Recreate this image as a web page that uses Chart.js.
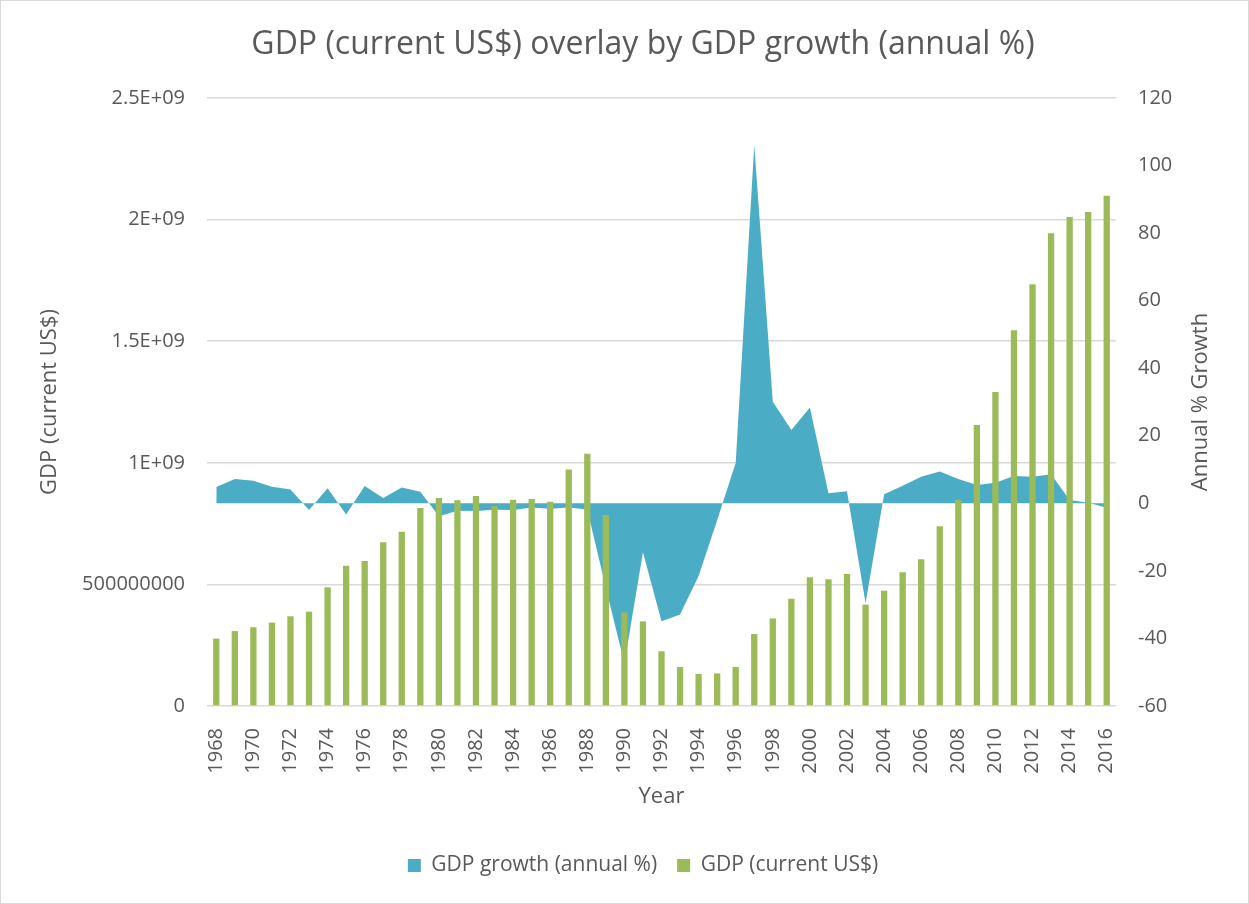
<!DOCTYPE html>
<html>
<head>
<meta charset="utf-8">
<script src="https://cdn.jsdelivr.net/npm/chart.js@4"></script>
<style>
  body { margin: 0; background: #fff; }
  #wrap { width: 1249px; height: 904px; }
</style>
</head>
<body>
<div id="wrap"><canvas id="gdpChart" width="1249" height="904"></canvas></div>
<script>
// ----- data -----
const years = ['1968', '1969', '1970', '1971', '1972', '1973', '1974', '1975', '1976', '1977',
  '1978', '1979', '1980', '1981', '1982', '1983', '1984', '1985', '1986', '1987',
  '1988', '1989', '1990', '1991', '1992', '1993', '1994', '1995', '1996', '1997',
  '1998', '1999', '2000', '2001', '2002', '2003', '2004', '2005', '2006', '2007',
  '2008', '2009', '2010', '2011', '2012', '2013', '2014', '2015', '2016'];

// GDP in current US$
const gdpValues = [0.277e9, 0.308e9, 0.324e9, 0.343e9, 0.369e9, 0.388e9, 0.488e9, 0.577e9, 0.596e9, 0.673e9,
  0.717e9, 0.814e9, 0.855e9, 0.846e9, 0.863e9, 0.822e9, 0.848e9, 0.851e9, 0.840e9, 0.972e9,
  1.037e9, 0.785e9, 0.385e9, 0.348e9, 0.225e9, 0.160e9, 0.132e9, 0.134e9, 0.160e9, 0.296e9,
  0.360e9, 0.441e9, 0.529e9, 0.521e9, 0.543e9, 0.417e9, 0.474e9, 0.550e9, 0.603e9, 0.739e9,
  0.848e9, 1.155e9, 1.291e9, 1.545e9, 1.734e9, 1.944e9, 2.011e9, 2.031e9, 2.098e9];

// GDP growth, annual %
const growthValues = [4.8, 7.2, 6.7, 4.9, 4.1, -2.0, 4.5, -3.3, 5.1, 1.6,
  4.7, 3.4, -3.8, -2.2, -2.3, -1.9, -2.0, -1.2, -1.6, -1.2,
  -1.8, -25.0, -47.4, -14.5, -34.9, -32.9, -21.5, -5.0, 12.0, 106.1,
  30.1, 21.7, 28.4, 3.0, 3.6, -29.6, 2.7, 5.2, 7.9, 9.4,
  7.2, 5.4, 6.1, 8.1, 7.9, 8.6, 1.0, 0.2, -1.3];

const gdpTicks = ['0', '500000000', '1E+09', '1.5E+09', '2E+09', '2.5E+09'];

const TEXT = '#595959';
const FONT = '"Open Sans", Lato, sans-serif';

// frame + right-hand axis title (reads bottom to top like the left one)
const framePlugin = {
  id: 'frame',
  beforeDraw(chart) {
    const { ctx, width, height } = chart;
    ctx.save();
    ctx.fillStyle = '#ffffff';
    ctx.fillRect(0, 0, width, height);
    ctx.restore();
  },
  afterDraw(chart) {
    const { ctx, width, height, chartArea } = chart;
    ctx.save();
    ctx.strokeStyle = '#d9d9d9';
    ctx.lineWidth = 1;
    ctx.strokeRect(0.5, 0.5, width - 1, height - 1);

    ctx.translate(1201, (chartArea.top + chartArea.bottom) / 2);
    ctx.rotate(-Math.PI / 2);
    ctx.fillStyle = TEXT;
    ctx.font = '22px ' + FONT;
    ctx.textAlign = 'center';
    ctx.textBaseline = 'middle';
    ctx.fillText('Annual % Growth', 0, 0);
    ctx.restore();
  }
};

const ctx = document.getElementById('gdpChart').getContext('2d');

new Chart(ctx, {
  data: {
    labels: years,
    datasets: [
      {
        type: 'line',
        label: 'GDP growth (annual %)',
        data: growthValues,
        yAxisID: 'yGrowth',
        backgroundColor: '#4BACC6',
        borderColor: '#4BACC6',
        borderWidth: 0,
        pointRadius: 0,
        tension: 0,
        fill: 'origin',
        order: 2
      },
      {
        type: 'bar',
        label: 'GDP (current US$)',
        data: gdpValues,
        yAxisID: 'yGdp',
        backgroundColor: '#9BBB59',
        borderWidth: 0,
        barPercentage: 0.34,
        categoryPercentage: 1,
        order: 1
      }
    ]
  },
  options: {
    responsive: false,
    animation: false,
    layout: { padding: { left: 37, right: 0, top: 0, bottom: 18 } },
    plugins: {
      title: {
        display: true,
        text: 'GDP (current US$) overlay by GDP growth (annual %)',
        color: TEXT,
        font: { family: FONT, size: 32, weight: 'normal' },
        padding: { top: 26, bottom: 33.6 }
      },
      legend: {
        position: 'bottom',
        labels: {
          color: TEXT,
          font: { family: FONT, size: 21 },
          boxWidth: 13,
          boxHeight: 13,
          padding: 20,
          sort: (a, b) => a.datasetIndex - b.datasetIndex
        }
      },
      tooltip: { enabled: false }
    },
    scales: {
      x: {
        grid: { display: false },
        border: { display: false },
        ticks: {
          color: TEXT,
          font: { family: FONT, size: 20 },
          autoSkip: false,
          minRotation: 90,
          maxRotation: 90,
          padding: 14,
          callback: function(value, index) {
            return index % 2 === 0 ? this.getLabelForValue(value) : '';
          }
        },
        title: {
          display: true,
          text: 'Year',
          color: TEXT,
          font: { family: FONT, size: 22 },
          padding: { top: 4, bottom: 25 }
        },
        afterFit: (scale) => { scale.height = 129; }
      },
      yGdp: {
        position: 'left',
        min: 0,
        max: 2.5e9,
        grid: { color: '#d9d9d9', lineWidth: 1.5, drawTicks: false },
        border: { display: false },
        ticks: {
          stepSize: 5e8,
          color: TEXT,
          font: { family: FONT, size: 20 },
          padding: 22,
          callback: (value, index) => gdpTicks[index]
        },
        title: {
          display: true,
          text: 'GDP (current US$)',
          color: TEXT,
          font: { family: FONT, size: 22 },
          padding: 0
        },
        afterFit: (scale) => { scale.width = 170; }
      },
      yGrowth: {
        position: 'right',
        min: -60,
        max: 120,
        grid: { drawOnChartArea: false, drawTicks: false },
        border: { display: false },
        ticks: {
          stepSize: 20,
          color: TEXT,
          font: { family: FONT, size: 20 },
          padding: 22
        },
        afterFit: (scale) => { scale.width = 133; }
      }
    }
  },
  plugins: [framePlugin]
});
</script>
</body>
</html>
